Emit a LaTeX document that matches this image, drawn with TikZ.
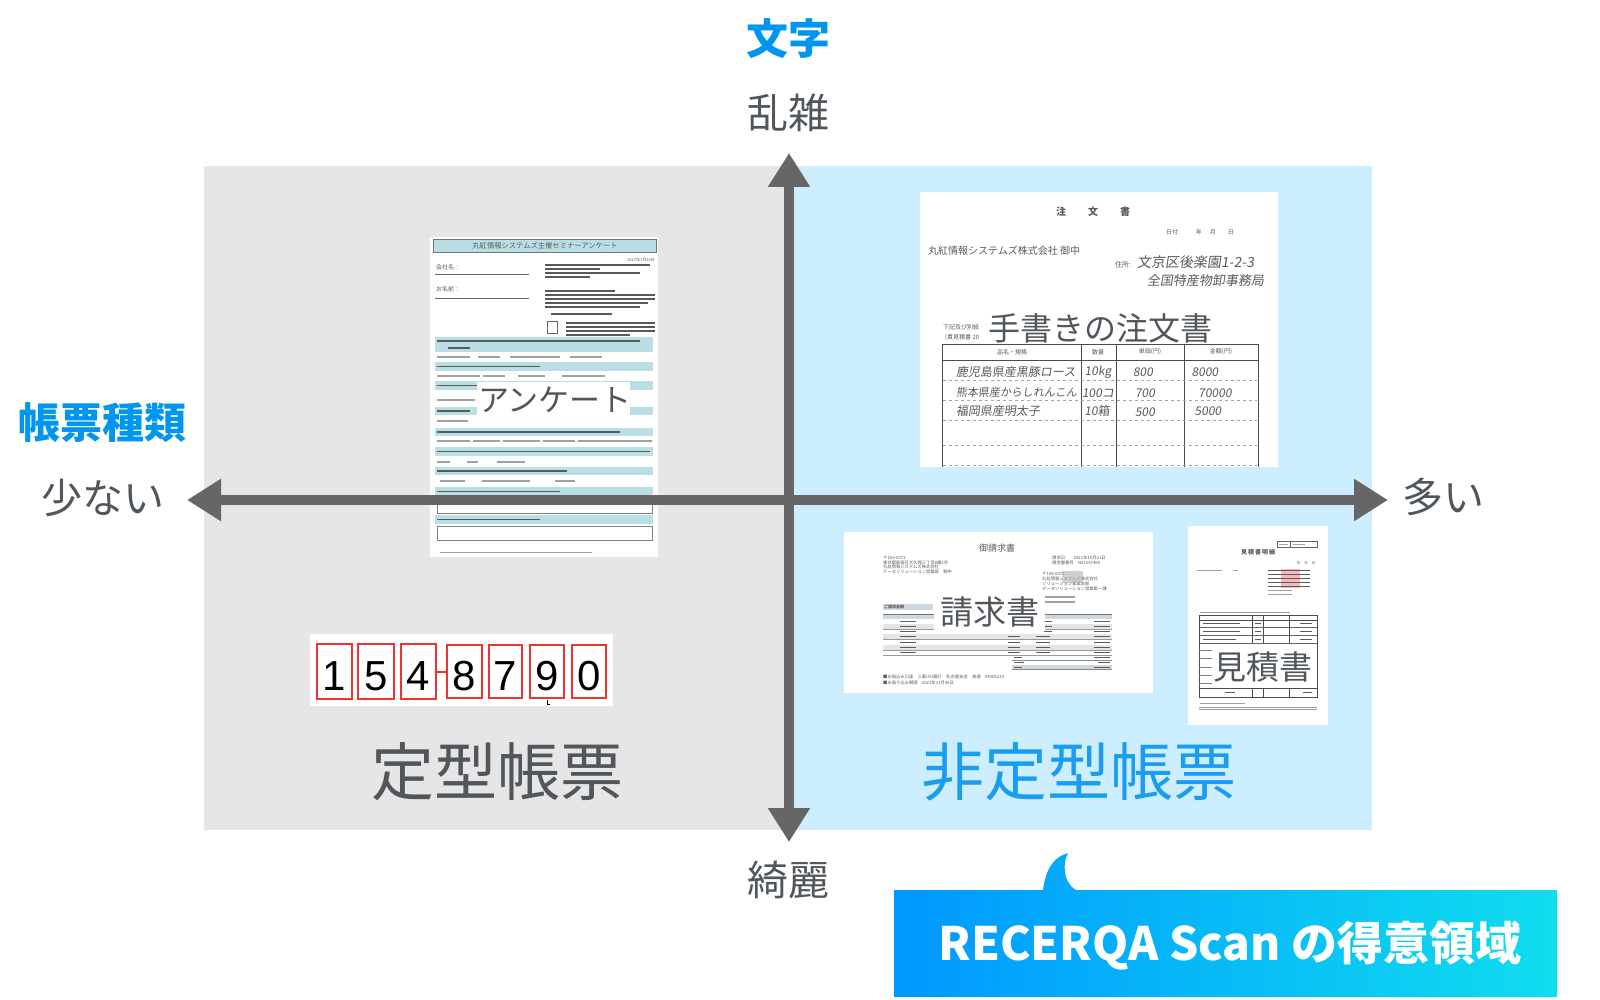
\documentclass[tikz,border=0pt]{standalone}
\usepackage{fontspec}
\setmainfont{Noto Sans CJK JP}
\newfontfamily\digitfont{Liberation Sans}
\newfontfamily\handfont[FakeSlant=0.15]{Noto Sans CJK JP}
\usetikzlibrary{arrows.meta}
\definecolor{graybg}{HTML}{E6E6E6}
\definecolor{bluebg}{HTML}{CCEEFF}
\definecolor{axisc}{HTML}{666666}
\definecolor{txt}{HTML}{50565B}
\definecolor{blueT}{HTML}{0096F0}
\definecolor{blueT2}{HTML}{1A9DF0}
\definecolor{teal}{HTML}{B9DEE4}
\definecolor{redbox}{HTML}{EE3333}
\definecolor{cL}{HTML}{0098FF}
\definecolor{cR}{HTML}{10DDEE}
\definecolor{txtc}{HTML}{5A5A5A}
\definecolor{txtl}{HTML}{A0A0A0}
\definecolor{bgr}{HTML}{CFD8E0}
\newcommand\setfs[1]{\fontsize{#1}{#1}\selectfont}
\newcommand\txl[4][0.6]{\fill[txtc] (#2,#4-#1) rectangle (#3,#4+#1);}
\newcommand\txg[4][0.55]{\fill[txtl] (#2,#4-#1) rectangle (#3,#4+#1);}
\begin{document}
\begin{tikzpicture}[x=1pt,y=-1pt,
  lbl/.style={text=txt,font=\setfs{41},inner sep=0pt},
  axisT/.style={text=blueT,font=\setfs{42}\bfseries,inner sep=0pt},
  big/.style={font=\setfs{63},inner sep=0pt},
  doclbl/.style={text=txt,font=\setfs{33},inner sep=0pt},
  tiny/.style={inner sep=0pt,text=txtc},
  axis/.style={line width=10pt,draw=axisc,
    {Triangle[length=34pt,width=40pt]}-{Triangle[length=34pt,width=40pt]}},
  rthick/.style={draw=redbox,line width=2.4pt},
  rthin/.style={draw=redbox,line width=1.2pt},
  dig/.style={font=\digitfont\setfs{42},inner sep=0pt,anchor=base,text=black},
  tline/.style={draw=black!70,line width=0.6pt},
  band/.style={fill=teal}]
\useasboundingbox (0,0) rectangle (1600,1000);
\fill[white] (0,0) rectangle (1600,1000);
% panels
\fill[graybg] (204,166) rectangle (789,830);
\fill[bluebg] (789,166) rectangle (1372,830);

% ===== Questionnaire =====
\fill[white] (430,237) rectangle (658,557);
\draw[band,draw=black!55,line width=0.4pt] (433,239) rectangle (656,252);
\node[tiny,font=\setfs{7.3}] (qtitle) at (545,245.5) {丸紅情報システムズ主催セミナーアンケート};
\node[tiny,font=\setfs{4},anchor=east] (qdate) at (655,260) {2017年7月20日};
\node[tiny,font=\setfs{6},anchor=west] (qcomp) at (436,267) {会社名：};
\node[tiny,font=\setfs{6},anchor=west] (qname) at (436,289) {お名前：};
\draw[black!60,line width=0.6pt] (435,274) -- (529,274);
\draw[black!60,line width=0.6pt] (435,298) -- (529,298);
\txl{545}{650}{265}\txl{545}{600}{269}\txl{545}{640}{273}\txl{545}{590}{277}
\txl{545}{615}{291}\txl{545}{655}{295}\txl{545}{655}{299}\txl{545}{648}{303}\txl{545}{640}{307}
\txl{551}{612}{314}
\draw[black!60,line width=0.5pt] (547,321) rectangle (557,333);
\txl{566}{655}{323}\txl{566}{655}{327}\txl{566}{655}{331}\txl{566}{630}{335}
% bands
\fill[band] (435,337) rectangle (653,352); \txl{437}{640}{341}\txl{448}{470}{348}
\txg{437}{470}{357}\txg{478}{500}{357}\txg{510}{560}{357}\txg{570}{602}{357}
\fill[band] (435,362) rectangle (653,371); \txl{437}{540}{366.5}
\txg{437}{480}{376}\txg{483}{505}{376}\txg{518}{545}{376}\txg{562}{605}{376}
\fill[band] (435,381) rectangle (653,390); \txl{437}{495}{385.5}
\txg{437}{475}{400}
\fill[band] (435,407) rectangle (653,415); \txl{437}{470}{411}
\txg{437}{468}{421}
\fill[band] (435,428) rectangle (653,436); \txl{437}{620}{432}
\txg{437}{470}{441}\txg{473}{500}{441}\txg{503}{540}{441}\txg{543}{575}{441}\txg{578}{652}{441}
\fill[band] (435,447) rectangle (653,456); \txl{437}{650}{451.5}
\txg{437}{450}{462}\txg{467}{478}{462}\txg{497}{525}{462}
\fill[band] (435,467) rectangle (653,475); \txl{437}{567}{471}
\txg{440}{465}{481}\txg{482}{530}{481}\txg{555}{575}{481}
\fill[band] (435,487) rectangle (653,496); \txl{437}{560}{491.5}
\draw[black!50,line width=0.5pt] (437,498) rectangle (652,513);
\fill[band] (435,515) rectangle (653,524); \txl{437}{540}{519.5}
\draw[black!50,line width=0.5pt] (437,526) rectangle (652,540);
\txg[0.5]{440}{592}{552}
\fill[white] (477,382) rectangle (630,417);
\node[doclbl,font=\setfs{31}] (enq) at (555,400) {アンケート};

% ===== Order form =====
\fill[white] (920,192) rectangle (1278,467);
\node[tiny,font=\setfs{10}\bfseries] (otitle) at (1093,212) {注\hspace{22pt}文\hspace{22pt}書};
\node[tiny,font=\setfs{6},anchor=west] (odate) at (1166,232) {日付:\hspace{16pt}年\hspace{8pt}月\hspace{12pt}日};
\node[tiny,font=\setfs{10},anchor=west] (oto) at (928,251) {丸紅情報システムズ株式会社 御中};
\node[tiny,font=\setfs{7},anchor=west] (oaddr) at (1115,265) {住所:};
\node[tiny,font=\handfont\setfs{14},anchor=west] (ohw1) at (1137,262) {文京区後楽園1-2-3};
\node[tiny,font=\handfont\setfs{13},anchor=west] (ohw2) at (1147,281) {全国特産物卸事務局};
\node[tiny,font=\setfs{6},anchor=west] (onote1) at (943,327) {下記及び別紙};
\node[tiny,font=\setfs{6},anchor=west] (onote2) at (941,337) {（貴見積書 20};
\draw[tline] (942,467) -- (942,344) -- (1258,344) -- (1258,467);
\draw[tline] (942,360) -- (1258,360);
\foreach \xx in {1081,1116,1184} \draw[tline] (\xx,344) -- (\xx,467);
\foreach \yy in {380,400,420,445,465} \draw[black!35,dashed,line width=0.4pt] (943,\yy) -- (1257,\yy);
\node[tiny,font=\setfs{6}] (oh1) at (1012,352) {品名・規格};
\node[tiny,font=\setfs{6}] (oh2) at (1098,352) {数量};
\node[tiny,font=\setfs{6}] (oh3) at (1150,352) {単価(円)};
\node[tiny,font=\setfs{6}] (oh4) at (1221,352) {金額(円)};
\begin{scope}[every node/.style={tiny,font=\handfont\setfs{12}}]
\node[anchor=west] (r1a) at (956,372) {鹿児島県産黒豚ロース};
\node (r1b) at (1098,372) {10kg};
\node (r1c) at (1143,372) {800};
\node (r1d) at (1205,372) {8000};
\node[anchor=west,font=\handfont\setfs{11}] (r2a) at (956,392) {熊本県産からしれんこん};
\node (r2b) at (1098,393) {100コ};
\node (r2c) at (1145,393) {700};
\node (r2d) at (1215,393) {70000};
\node[anchor=west] (r3a) at (956,411) {福岡県産明太子};
\node (r3b) at (1097,411) {10箱};
\node (r3c) at (1145,412) {500};
\node (r3d) at (1208,411) {5000};
\end{scope}
\node[doclbl,font=\setfs{32}] (tegaki) at (1100,328) {手書きの注文書};

% ===== Invoice =====
\fill[white] (844,532) rectangle (1153,693);
\node[tiny,font=\setfs{9}] (ititle) at (997,548) {御請求書};
\begin{scope}[every node/.style={tiny,font=\setfs{4.3},anchor=west}]
\node (i1) at (883,558) {〒169-0072};
\node (i2) at (883,562.5) {東京都新宿区大久保三丁目8番2号};
\node (i3) at (883,567) {丸紅情報システムズ株式会社};
\node (i4) at (883,571.5) {データソリューション営業部　御中};
\node (i5) at (1052,558) {請求日　　2021年10月21日};
\node (i6) at (1052,563) {請求書番号　N01557465};
\node (i7) at (1042,574) {〒169-0072};
\node (i8) at (1042,579) {丸紅情報システムズ株式会社};
\node (i9) at (1042,584) {ソリューション事業本部};
\node (i10) at (1042,589) {データソリューション営業第一課};
\node (i11) at (883,677) {■お振込み口座　三菱UFJ銀行　名古屋支店　普通　04065214};
\node (i12) at (883,683) {■お振り込み期限　2021年11月30日};
\end{scope}
\fill[black!30,opacity=0.6] (1062,571) rectangle (1083,583);
\txg{1045}{1075}{597}\txg{1045}{1075}{602}
\fill[bgr] (883,604) rectangle (933,610);
\node[tiny,font=\setfs{4}\bfseries,anchor=west] (iamt) at (884,607) {ご請求金額};
\fill[bgr] (883,614) rectangle (1112,619);
\draw[black!55,line width=0.4pt] (883,614) -- (1112,614);
\foreach \i in {1,...,7}{
  \pgfmathsetmacro\ya{619+5.14*(\i-1)}
  \pgfmathsetmacro\yb{619+5.14*\i}
  \pgfmathsetmacro\yc{619+5.14*(\i-0.5)}
  \ifodd\i\else\fill[black!10] (883,\ya) rectangle (1112,\yb);\fi
  \draw[black!40,line width=0.3pt] (883,\yb) -- (1112,\yb);
  \txl[0.5]{900}{916}{\yc}
  \txl[0.5]{1094}{1110}{\yc}
  \ifnum\i>3 \txl[0.5]{1008}{1020}{\yc}\txl[0.5]{1036}{1050}{\yc}\else\txl[0.5]{1044}{1052}{\yc}\fi
}
\foreach \yy in {660,665,669} \draw[black!45,line width=0.3pt] (1012,\yy) -- (1112,\yy);
\fill[bgr] (1012,665) rectangle (1112,669);
\txl[0.5]{1014}{1022}{657.5}\txl[0.5]{1014}{1024}{662.5}\txl[0.5]{1014}{1022}{667}
\txl[0.5]{1094}{1110}{657.5}\txl[0.5]{1098}{1110}{662.5}\txl[0.5]{1094}{1110}{667}
\fill[white] (934,595) rectangle (1045,630);
\node[doclbl] (seikyu) at (990,612) {請求書};

% ===== Estimate =====
\fill[white] (1188,526) rectangle (1328,725);
\draw[black!60,line width=0.4pt] (1277,541) rectangle (1317,547);
\draw[black!60,line width=0.3pt] (1290,541) -- (1290,547);
\txg[0.5]{1279}{1288}{544}\txg[0.5]{1293}{1305}{544}
\node[tiny,font=\setfs{6}\bfseries] (etitle) at (1258,552) {見\,積\,書\,明\,細};
\node[tiny,font=\setfs{3.5}] (edate) at (1306,563) {年\hspace{4pt}月\hspace{4pt}日};
\txg[0.5]{1197}{1222}{570}\txg[0.5]{1233}{1238}{570}
\fill[redbox!35] (1281,569) rectangle (1300,588);
\foreach \yy in {570,574,578,582,586} \txl[0.45]{1268}{1310}{\yy};
\txg[0.45]{1268}{1292}{590}\txg[0.45]{1268}{1292}{594}
\txg[0.45]{1200}{1290}{612}
\draw[black!70,line width=0.5pt] (1199,615) rectangle (1317,697);
\draw[black!70,line width=0.4pt] (1199,620) -- (1317,620);
\foreach \xx in {1252,1263,1289} \draw[black!70,line width=0.4pt] (\xx,615) -- (\xx,643);
\foreach \yy in {627,635,643} \draw[black!60,line width=0.4pt] (1199,\yy) -- (1317,\yy);
\foreach \yy in {650,658,667,675,683} \draw[black!50,line width=0.4pt] (1199,\yy) -- (1212,\yy);
\draw[black!70,line width=0.4pt] (1199,688) -- (1317,688);
\foreach \xx in {1252,1263,1289} \draw[black!70,line width=0.4pt] (\xx,688) -- (\xx,697);
\txl[0.45]{1203}{1240}{623.5}\txl[0.45]{1203}{1240}{631}\txl[0.45]{1203}{1236}{639}
\txl[0.45]{1300}{1312}{623.5}\txl[0.45]{1300}{1312}{631}\txl[0.45]{1300}{1312}{639}
\txl[0.45]{1255}{1261}{623.5}\txl[0.45]{1255}{1261}{631}\txl[0.45]{1255}{1261}{639}
\txl[0.45]{1225}{1235}{692.5}\txl[0.45]{1303}{1312}{692.5}
\txg[0.45]{1200}{1245}{703}
\draw[black!40,line width=0.4pt] (1199,707) -- (1317,707);
\draw[black!40,line width=0.4pt] (1199,709) -- (1317,709);
\node[doclbl] (mitsumori) at (1263,667) {見積書};

% ===== Digit boxes =====
\fill[white] (310,634) rectangle (613,706);
\draw[rthick] (317,644) rectangle (352,699);
\draw[rthick] (358,644) rectangle (394,699);
\draw[rthick] (401,644) rectangle (436,699);
\draw[rthick] (436,672) -- (447,672);
\draw[rthin] (447,645) rectangle (482,698);
\draw[rthin] (489,645) rectangle (522,698);
\draw[rthin] (530,645) rectangle (564,698);
\draw[rthin] (572,645) rectangle (606,698);
\node[dig] (d1) at (334.5,690) {1};
\node[dig] (d2) at (376,690) {5};
\node[dig] (d3) at (418.5,690) {4};
\node[dig] (d4) at (464.5,690) {8};
\node[dig] (d5) at (505.5,690) {7};
\node[dig] (d6) at (547,690) {9};
\node[dig] (d7) at (589,690) {0};
\draw[black,line width=1pt] (547,700) -- (547,704.5) -- (550,704.5);

% ===== Axes =====
\coordinate (T) at (789,153);
\coordinate (B) at (789,842);
\coordinate (L) at (187,500);
\coordinate (R) at (1388,500);
\draw[axis] (B) -- (T);
\draw[axis] (L) -- (R);

% ===== Labels =====
\node[axisT] (moji) at (788,39) {文字};
\node[lbl] (ranzatsu) at (788,113) {乱雑};
\node[lbl] (kirei) at (788,880) {綺麗};
\node[axisT] (shurui) at (102,423) {帳票種類};
\node[lbl] (sukunai) at (103,498) {少ない};
\node[lbl] (ooi) at (1443,497) {多い};
\node[big,text=txt] (teikei) at (497,772) {定型帳票};
\node[big,text=blueT2] (hiteikei) at (1079,772) {非定型帳票};

% ===== Callout =====
\shade[left color=cL,right color=cR]
  (894,890) -- (1043,890) .. controls (1046,868) and (1054,857) .. (1068,853)
  .. controls (1063,862) and (1062,882) .. (1076,890) -- (1557,890)
  -- (1557,997) -- (894,997) -- cycle;
\node[font=\setfs{46}\bfseries,text=white,inner sep=0pt] (callout) at (1230,946) {RECERQA Scan の得意領域};
\end{tikzpicture}
\end{document}
